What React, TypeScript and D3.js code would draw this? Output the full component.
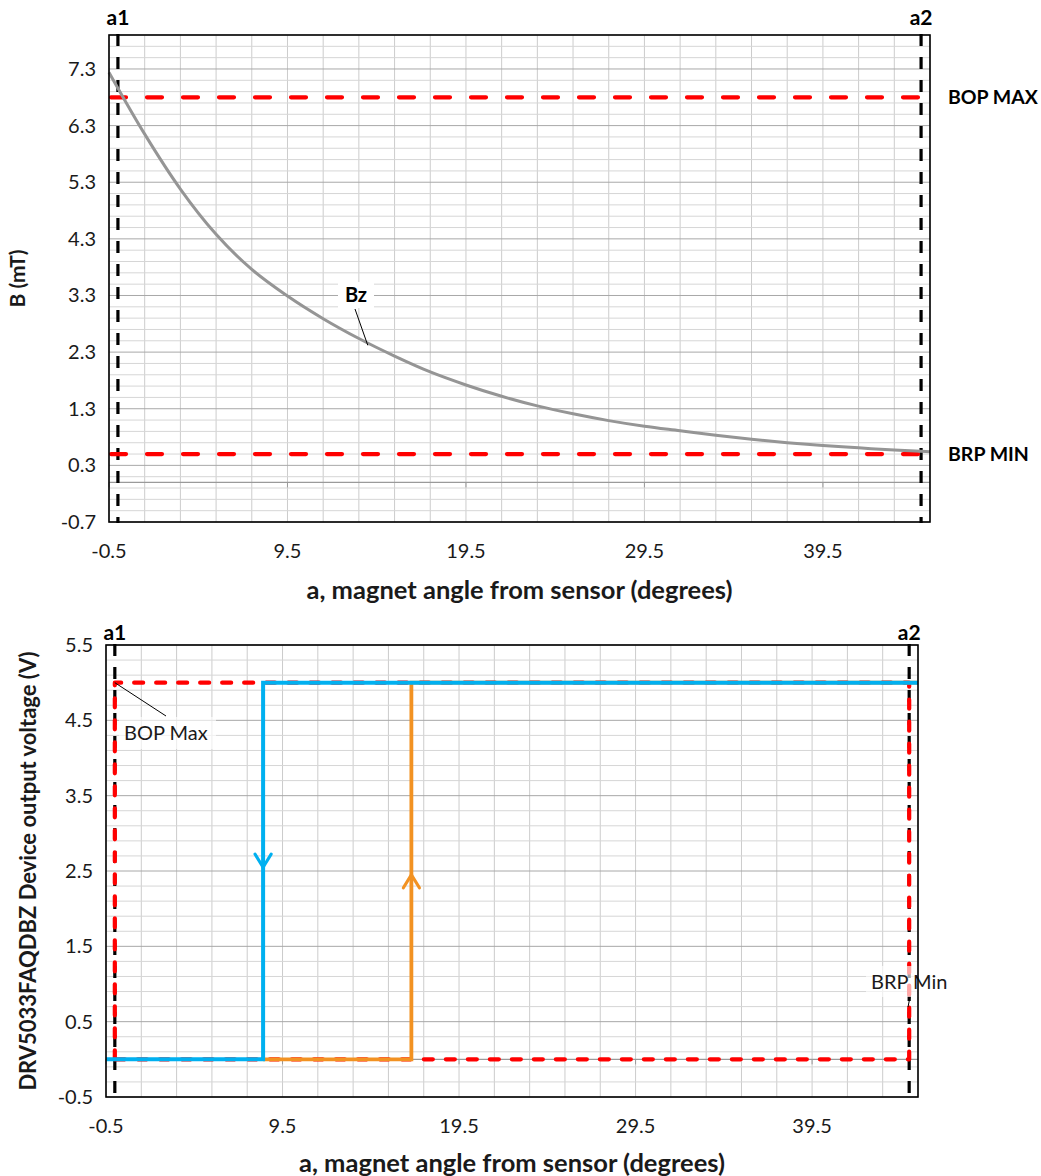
import React from "react";
import * as d3 from "d3";

const W = 1041;
const H = 1176;
const FONT = "Lato, 'Liberation Sans', sans-serif";

// shared angle axis
const angleTickLabels = [-0.5, 9.5, 19.5, 29.5, 39.5];
const angleA1 = 0;
const angleA2 = 45;

// top chart: field vs angle
const fieldTickLabels = [-0.7, 0.3, 1.3, 2.3, 3.3, 4.3, 5.3, 6.3, 7.3];
const bzAngles = [-0.5, 1.5, 3.5, 5.5, 7.5, 9.5, 11.5, 13.5, 15.5, 17.5, 19.5, 21.5, 23.5, 25.5, 27.5, 29.5, 31.5, 33.5, 35.5, 37.5, 39.5, 41.5, 43.5, 45.5];
const bzValues = [7.24, 6.15, 5.18, 4.38, 3.76, 3.29, 2.89, 2.54, 2.23, 1.95, 1.72, 1.52, 1.35, 1.21, 1.09, 0.99, 0.91, 0.83, 0.76, 0.70, 0.65, 0.61, 0.57, 0.54];
const bopMax = 6.8;
const brpMin = 0.5;

// bottom chart: output voltage vs angle
const voltTickLabels = [-0.5, 0.5, 1.5, 2.5, 3.5, 4.5, 5.5];
const fallAngles = [-0.5, 8.4, 8.4, 45.5];
const fallVolts = [0, 0, 5, 5];
const riseAngles = [8.4, 16.8, 16.8, 45.5];
const riseVolts = [0, 0, 5, 5];
const limitAngles = [0, 0, 45, 45, 0];
const limitVolts = [0, 5, 5, 0, 0];
const fallArrowVolt = 2.55;
const riseArrowVolt = 2.45;

type Scale = d3.ScaleLinear<number, number>;

// excel style labels use a plain hyphen
const fmt = (v: number) => d3.format(".1f")(v).replace("\u2212", "-");

const Grid = ({ x, y, yStart, yEnd }: { x: Scale; y: Scale; yStart: number; yEnd: number }) => {
  const [x0, x1] = x.range();
  const [y0, y1] = y.range();
  const hCount = Math.round((yEnd - yStart) / 0.2);
  const hLines = d3.range(0, hCount + 1).map((i) => ({ v: yStart + i * 0.2, major: i % 5 === 0 }));
  const vLines = d3.range(-0.5, 45.6, 2);
  return (
    <g>
      {vLines.map((v) => (
        <line key={"v" + v} x1={x(v)} x2={x(v)} y1={y0} y2={y1} stroke="#cccccc" strokeWidth={1} />
      ))}
      {hLines.filter((d) => !d.major).map((d) => (
        <line key={"h" + d.v} x1={x0} x2={x1} y1={y(d.v)} y2={y(d.v)} stroke="#d6d6d6" strokeWidth={1} />
      ))}
      {hLines.filter((d) => d.major).map((d) => (
        <line key={"m" + d.v} x1={x0} x2={x1} y1={y(d.v)} y2={y(d.v)} stroke="#a8a8a8" strokeWidth={1} />
      ))}
      {/* horizontal axis crossing at zero */}
      <line x1={x0} x2={x1} y1={y(0)} y2={y(0)} stroke="#9a9a9a" strokeWidth={1.3} />
      {angleTickLabels.map((t) => (
        <line key={"t" + t} x1={x(t)} x2={x(t)} y1={y(0)} y2={y(0) + 5} stroke="#9a9a9a" strokeWidth={1} />
      ))}
    </g>
  );
};

const Axes = ({ x, y, yTicks, xTitle, yTitle, yTitleX, yTitleSize, tickLabelY, xTitleY }: any) => {
  const [x0, x1] = x.range();
  const [y0, y1] = y.range();
  return (
    <g fontFamily={FONT} fill="#1a1a1a">
      <rect x={x0} y={y1} width={x1 - x0} height={y0 - y1} fill="none" stroke="#000" strokeWidth={1.6} />
      {yTicks.map((t: number) => (
        <text key={t} x={x0 - 13} y={y(t)} dy="0.35em" textAnchor="end" fontSize={20}>
          {fmt(t)}
        </text>
      ))}
      {angleTickLabels.map((t) => (
        <text key={t} x={x(t)} y={tickLabelY} dy="0.35em" textAnchor="middle" fontSize={20}>
          {fmt(t)}
        </text>
      ))}
      <text x={(x0 + x1) / 2} y={xTitleY} dy="0.35em" textAnchor="middle" fontSize={25.5} fontWeight="bold">
        {xTitle}
      </text>
      <text
        transform={`translate(${yTitleX},${(y0 + y1) / 2}) rotate(-90)`}
        dy="0.35em"
        textAnchor="middle"
        fontSize={yTitleSize}
        fontWeight="bold"
      >
        {yTitle}
      </text>
    </g>
  );
};

const MarkerLines = ({ x, y, labelY }: { x: Scale; y: Scale; labelY: number }) => {
  const [y0, y1] = y.range();
  return (
    <g>
      {[angleA1, angleA2].map((a) => (
        <line key={a} x1={x(a)} x2={x(a)} y1={y1 - 1} y2={y0 + 1} stroke="#000" strokeWidth={3.2} strokeDasharray="12 11" />
      ))}
      <text x={x(angleA1)} y={labelY} dy="0.35em" textAnchor="middle" fontFamily={FONT} fontSize={21} fontWeight="bold">
        a1
      </text>
      <text x={x(angleA2)} y={labelY} dy="0.35em" textAnchor="middle" fontFamily={FONT} fontSize={21} fontWeight="bold">
        a2
      </text>
    </g>
  );
};

const FieldChart = () => {
  const x = d3.scaleLinear().domain([-0.5, 45.5]).range([109, 930]);
  const y = d3.scaleLinear().domain([-0.7, 7.9]).range([522, 35]);
  const curve = d3
    .line<number>()
    .x((d, i) => x(bzAngles[i]))
    .y((d) => y(d))
    .curve(d3.curveMonotoneX);
  return (
    <g>
      <Grid x={x} y={y} yStart={-0.7} yEnd={7.9} />
      <MarkerLines x={x} y={y} labelY={18} />
      {[bopMax, brpMin].map((v) => (
        <line
          key={v}
          x1={x(-0.5) + 2}
          x2={x(angleA2)}
          y1={y(v)}
          y2={y(v)}
          stroke="#ff0000"
          strokeWidth={4.2}
          strokeLinecap="round"
          strokeDasharray="15 21"
        />
      ))}
      <path d={curve(bzValues) || ""} fill="none" stroke="#959595" strokeWidth={3} />
      {/* Bz label */}
      <line x1={355} y1={309} x2={x(14)} y2={y(2.42)} stroke="#000" strokeWidth={1} />
      <rect x={338} y={282} width={36} height={26} fill="#fff" />
      <text x={356} y={295} dy="0.35em" textAnchor="middle" fontFamily={FONT} fontSize={20} fontWeight="bold">
        Bz
      </text>
      <Axes
        x={x}
        y={y}
        yTicks={fieldTickLabels}
        xTitle="a, magnet angle from sensor (degrees)"
        yTitle="B (mT)"
        yTitleX={18}
        yTitleSize={21}
        tickLabelY={551}
        xTitleY={590}
      />
      <text x={948} y={y(bopMax)} dy="0.35em" fontFamily={FONT} fontSize={19.5} fontWeight="bold">
        BOP MAX
      </text>
      <text x={948} y={y(brpMin)} dy="0.35em" fontFamily={FONT} fontSize={19.5} fontWeight="bold">
        BRP MIN
      </text>
    </g>
  );
};

const OutputChart = () => {
  const x = d3.scaleLinear().domain([-0.5, 45.5]).range([106, 918]);
  const y = d3.scaleLinear().domain([-0.5, 5.5]).range([1097, 645]);
  const line = (angles: number[]) =>
    d3
      .line<number>()
      .x((d, i) => x(angles[i]))
      .y((d) => y(d));
  const fallX = x(fallAngles[1]);
  const riseX = x(riseAngles[1]);
  return (
    <g>
      <Grid x={x} y={y} yStart={-0.5} yEnd={5.5} />
      <MarkerLines x={x} y={y} labelY={633} />
      <path
        d={line(limitAngles)(limitVolts) || ""}
        fill="none"
        stroke="#ff0000"
        strokeWidth={4.2}
        strokeLinecap="round"
        strokeLinejoin="round"
        strokeDasharray="9 13"
      />
      <path d={line(riseAngles)(riseVolts) || ""} fill="none" stroke="#f29222" strokeWidth={3.8} />
      <path
        d={`M${riseX - 8},${y(riseArrowVolt) + 13} L${riseX},${y(riseArrowVolt)} L${riseX + 8},${y(riseArrowVolt) + 13}`}
        fill="none"
        stroke="#f29222"
        strokeWidth={3.2}
        strokeLinecap="round"
      />
      <path d={line(fallAngles)(fallVolts) || ""} fill="none" stroke="#00b0f0" strokeWidth={4} />
      <path
        d={`M${fallX - 8},${y(fallArrowVolt) - 13} L${fallX},${y(fallArrowVolt)} L${fallX + 8},${y(fallArrowVolt) - 13}`}
        fill="none"
        stroke="#00b0f0"
        strokeWidth={3.2}
        strokeLinecap="round"
      />
      {/* BOP Max callout */}
      <line x1={x(angleA1)} y1={y(5)} x2={166} y2={716} stroke="#000" strokeWidth={1} />
      <rect x={119} y={717} width={97} height={32} fill="#fff" fillOpacity={0.65} />
      <text x={124} y={733} dy="0.35em" fontFamily={FONT} fontSize={20} fill="#1a1a1a">
        BOP Max
      </text>
      {/* BRP Min callout */}
      <line x1={910} y1={997} x2={908} y2={1007} stroke="#000" strokeWidth={1} />
      <rect x={866} y={966} width={88} height={31} fill="#fff" fillOpacity={0.65} />
      <text x={871} y={982} dy="0.35em" fontFamily={FONT} fontSize={20} fill="#1a1a1a">
        BRP Min
      </text>
      <Axes
        x={x}
        y={y}
        yTicks={voltTickLabels}
        xTitle="a, magnet angle from sensor (degrees)"
        yTitle="DRV5033FAQDBZ Device output voltage (V)"
        yTitleX={28}
        yTitleSize={22}
        tickLabelY={1126}
        xTitleY={1163}
      />
    </g>
  );
};

export default function App() {
  return (
    <svg
      width={W}
      height={H}
      viewBox={`0 0 ${W} ${H}`}
      style={{ position: "absolute", left: 0, top: 0, background: "#fff" }}
    >
      <rect width={W} height={H} fill="#fff" />
      <FieldChart />
      <OutputChart />
    </svg>
  );
}
